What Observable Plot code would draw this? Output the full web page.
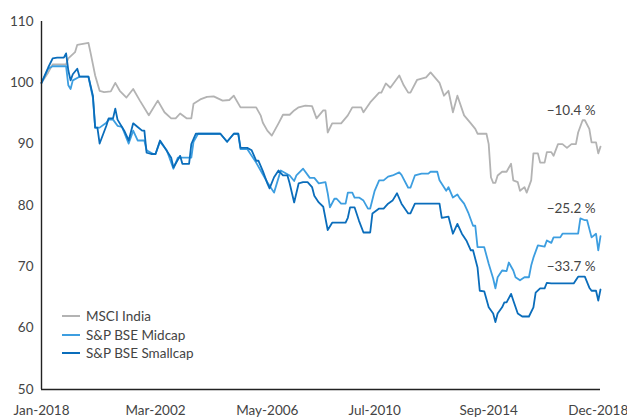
<!DOCTYPE html>
<html>
<head>
<meta charset="utf-8">
<script src="https://cdn.jsdelivr.net/npm/d3@7"></script>
<script src="https://cdn.jsdelivr.net/npm/@observablehq/plot@0.6"></script>
<style>
  html, body { margin: 0; padding: 0; background: #fff; }
  #wrap { position: relative; width: 627px; height: 418px; font-family: Lato, "Open Sans", sans-serif; }
  #legend { position: absolute; left: 62px; top: 307px; font-size: 13.5px; color: #444; line-height: 18.5px; }
  #legend .row { display: flex; align-items: center; white-space: nowrap; }
  #legend .sw { width: 18px; height: 2px; margin-right: 6px; }
</style>
</head>
<body>
<div id="wrap"></div>
<script>
// Series names and colours
const seriesNames = ["MSCI India", "S&P BSE Midcap", "S&P BSE Smallcap"];
const seriesColors = ["#b3b3b3", "#3d9ee0", "#0a6dbb"];
const changeLabels = ["\u221210.4 %", "\u221225.2 %", "\u221233.7 %"];

// x tick labels (as printed) and their trading-day positions
const tickLabels = ["Jan-2018", "Mar-2002", "May-2006", "Jul-2010", "Sep-2014", "Dec-2018"];
const tickDays = [0, 51, 101, 149, 200, 249];

// [trading day, index value]
const msci = [[0,100],[3,101.7],[5,103],[11,103],[12,104],[15,105],[16,106.2],[21,106.5],[22,104.8],[24,101.2],[26,98.7],[28,98.5],[31,98.6],[33,100],[35,98.7],[38,97.6],[41,99],[44,97.1],[48,94.7],[52,97.1],[55,95.2],[58,94.2],[60,94.2],[62,95],[65,94.2],[67,94.2],[68,96.6],[71,97.3],[74,97.7],[77,97.8],[81,97.1],[84,97.2],[86,97.9],[89,96],[92,96],[96,96],[98,94.7],[99,93.5],[101,92.2],[103,91.4],[106,93.4],[108,94.8],[111,94.8],[113,95.5],[115,96],[118,96.3],[121,96.2],[123,94.2],[126,95.5],[127,95.5],[128,91.9],[130,93.4],[134,93.4],[137,94.7],[139,96],[143,96],[144,95.2],[147,96.8],[151,98.4],[152,98.4],[154,99.9],[156,99.2],[160,101.2],[162,99.6],[164,98.4],[165,98.4],[168,100.5],[172,100.9],[174,101.7],[178,100],[180,97.9],[182,98.7],[184,95.2],[186,97.9],[189,94.7],[192,93.4],[194,92.5],[195,91.7],[199,91.7],[200,90],[201,84.6],[202,83.7],[203,83.7],[204,84.9],[206,85.5],[208,85.5],[210,86.8],[211,84.1],[213,83.8],[214,82.4],[216,83],[217,82.1],[219,84.1],[220,88.5],[222,88.5],[223,87],[225,87],[226,88.7],[228,88.7],[229,88.1],[231,90],[233,90],[235,89.4],[237,90],[239,90],[240,91.9],[242,93.9],[243,93.9],[245,92.5],[246,90.3],[248,90.3],[249,88.5],[250,89.6]];

const midcap = [[0,100],[3,102.3],[5,102.7],[11,102.7],[12,99.6],[13,99],[14,100.4],[17,101],[21,101],[23,97.5],[24,92.7],[26,92.7],[29,93.5],[30,94],[32,94],[34,93],[36,92.8],[39,90.1],[41,92.2],[43,90.6],[46,90.6],[47,89],[50,88.4],[51,88.4],[53,90.4],[56,89],[59,86],[61,87.8],[67,87.8],[68,90.4],[70,91.7],[79,91.7],[80,91.7],[83,90.4],[86,91.7],[88,91.7],[89,89.2],[92,89.2],[96,87],[98,85.7],[101,83.8],[104,82.1],[107,85.7],[111,84.9],[113,84],[114,84.9],[117,86],[120,84.5],[122,84.5],[124,83.6],[127,83.8],[128,82],[129,79.7],[131,81.1],[132,81.1],[134,80.3],[136,80.3],[137,82.1],[139,82.1],[140,81.3],[142,81.3],[144,80.8],[146,79.5],[147,79.5],[149,82.4],[151,84.1],[153,84.1],[155,84.7],[157,84.9],[160,85.4],[161,85],[164,82.9],[165,82.9],[167,84.9],[170,85.2],[173,85.2],[174,85.5],[177,85.5],[178,84.1],[181,82.4],[182,83],[184,81.3],[186,81.8],[187,81.2],[189,80.3],[191,78.7],[193,76.7],[194,76.7],[195,73.2],[198,73.2],[200,70.5],[202,68.1],[203,66.5],[204,68.3],[206,69.4],[208,69.3],[209,70.7],[211,69.4],[212,68.3],[214,67.8],[216,68.3],[218,68.3],[219,70.2],[220,71.5],[222,73.5],[225,73.3],[226,74.3],[228,73.9],[229,74.8],[232,74.8],[233,75.4],[240,75.4],[241,77.9],[243,77.6],[244,77.6],[246,74.8],[248,75.4],[249,72.7],[250,75]];

const smallcap = [[0,100],[3,102.5],[5,104],[7,104.1],[10,104.1],[11,104.8],[12,102],[13,100.4],[14,101.4],[16,102.3],[17,101],[21,101],[23,97.9],[24,92.7],[25,92.7],[26,90.1],[29,93],[30,94.2],[32,94.2],[33,95.8],[34,94],[37,92.2],[39,90.6],[41,93.4],[43,92.8],[45,92.2],[46,92.2],[47,88.6],[49,88.4],[51,88.4],[53,90.6],[55,89.5],[58,87.8],[59,86.2],[62,88.1],[63,86.8],[66,86.8],[67,90],[69,91.7],[77,91.7],[80,91.7],[83,90.4],[86,91.7],[88,91.7],[89,89.4],[92,89.4],[94,89],[96,87.3],[97,87.3],[99,85.6],[101,83.6],[102,82.8],[104,84.6],[106,85.7],[108,84.9],[110,84.9],[111,83.6],[113,80.5],[115,83.6],[117,83.8],[119,83.8],[121,83],[122,81.6],[124,80.5],[126,79.8],[128,76],[130,77.2],[136,77.2],[137,78],[138,79.7],[140,79.7],[142,77.5],[144,75.6],[147,75.6],[148,78.7],[151,79.5],[153,79.5],[155,80.3],[157,80.8],[159,82],[161,80.3],[164,78.7],[165,78.7],[167,80.3],[172,80.3],[174,80.3],[178,80.3],[179,78],[182,78.2],[184,75.4],[186,77],[188,75.4],[190,74.3],[192,72.7],[193,72.7],[195,69.9],[196,66.1],[198,66],[200,63.4],[202,62.4],[203,61],[204,62.4],[206,63.4],[207,64.2],[208,64.2],[210,65.6],[211,64.5],[213,62.4],[215,61.9],[218,61.9],[220,63.4],[221,65.8],[223,66.5],[225,66.5],[226,67.4],[228,67.3],[238,67.3],[240,68.4],[243,68.4],[245,66.6],[246,66.1],[248,66.1],[249,64.5],[250,66.3]];

const yTicks = [50, 60, 70, 80, 90, 100, 110];

const allSeries = [msci, midcap, smallcap];
const rows = allSeries.flatMap((s, i) => s.map(([day, value]) => ({day, value, name: seriesNames[i]})));

// annotation anchored at the recent high of each series
const notes = allSeries.map((s, i) => {
  const last = s[s.length - 1];
  const recent = s.filter(d => d[0] >= last[0] - 10);
  return {day: last[0], value: d3.max(recent, d => d[1]), text: changeLabels[i]};
});

const font = "Lato, 'Open Sans', sans-serif";

const chart = Plot.plot({
  width: 627,
  height: 418,
  marginLeft: 41,
  marginRight: 27,
  marginTop: 21,
  marginBottom: 29,
  style: {fontFamily: font, fontSize: "13.5px", color: "#444", background: "#fff"},
  x: {domain: [0, 250], axis: null},
  y: {domain: [50, 110], axis: null},
  color: {domain: seriesNames, range: seriesColors},
  marks: [
    Plot.axisY({ticks: yTicks, tickSize: 0, tickPadding: 8, label: null, fill: "#444", fontSize: 13.5}),
    Plot.axisX({ticks: tickDays, tickFormat: (d, i) => tickLabels[i], tickSize: 0, tickPadding: 16, label: null, fill: "#444", fontSize: 13.5}),
    Plot.line(rows.filter(d => d.name === seriesNames[0]), {x: "day", y: "value", stroke: "name", strokeWidth: 1.8}),
    Plot.line(rows.filter(d => d.name === seriesNames[1]), {x: "day", y: "value", stroke: "name", strokeWidth: 1.8}),
    Plot.line(rows.filter(d => d.name === seriesNames[2]), {x: "day", y: "value", stroke: "name", strokeWidth: 1.8}),
    Plot.ruleX([0], {stroke: "#222", strokeWidth: 1.4}),
    Plot.ruleY([50], {stroke: "#222", strokeWidth: 1.4}),
    Plot.text(notes, {x: "day", y: "value", text: "text", textAnchor: "end", dx: -5, dy: -10, fill: "#444", fontSize: 13.5})
  ]
});

const wrap = document.getElementById("wrap");
wrap.appendChild(chart);

const legend = document.createElement("div");
legend.id = "legend";
seriesNames.forEach((n, i) => {
  const row = document.createElement("div");
  row.className = "row";
  const sw = document.createElement("span");
  sw.className = "sw";
  sw.style.background = seriesColors[i];
  const t = document.createElement("span");
  t.textContent = n;
  row.appendChild(sw);
  row.appendChild(t);
  legend.appendChild(row);
});
wrap.appendChild(legend);
</script>
</body>
</html>
